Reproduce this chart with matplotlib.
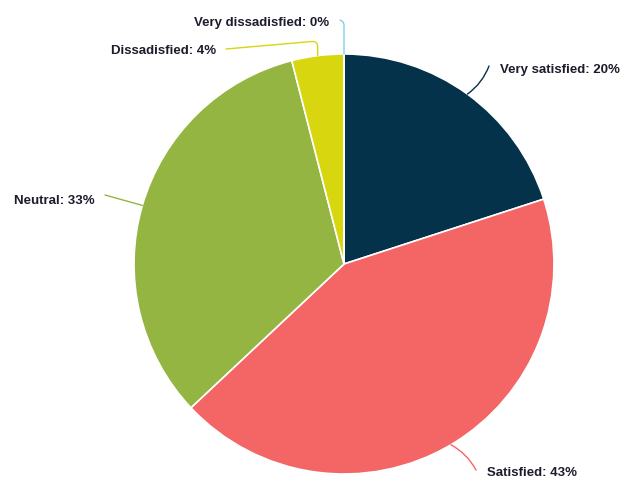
import numpy as np
import matplotlib.pyplot as plt

# Satisfaction survey shares (percent)
categories = ["Very satisfied", "Satisfied", "Neutral", "Dissadisfied", "Very dissadisfied"]
shares = [20, 43, 33, 4, 0]
colors = ["#04324a", "#f46565", "#95b543", "#d7d60f", "#7fd0e8"]

W, H = 626, 482
cx, cy, R = 344, 482 - 264, 210

# label placement in pixels (x, y from top), text alignment, connector end
label_pos = {
    "Very satisfied": ((500, 70), "left", (489, 66)),
    "Satisfied": ((487, 473), "left", (476, 470)),
    "Neutral": ((95, 201), "right", (105, 195)),
    "Dissadisfied": ((216, 51), "right", (226, 49)),
    "Very dissadisfied": ((329, 23), "right", (340, 20)),
}
conn_style = {
    "Very satisfied": "arc3,rad=-0.15",
    "Satisfied": "arc3,rad=0.15",
    "Neutral": "arc3,rad=0.0",
    "Dissadisfied": "angle,angleA=5,angleB=90,rad=6",
    "Very dissadisfied": "angle,angleA=-20,angleB=90,rad=4",
}

fig = plt.figure(figsize=(W / 100, H / 100), dpi=100)
ax = fig.add_axes([0, 0, 1, 1])
ax.set_aspect("equal")
ax.axis("off")

wedges, _ = ax.pie(shares, colors=colors, startangle=90, counterclock=False,
                   center=(cx, cy), radius=R,
                   wedgeprops=dict(edgecolor="white", linewidth=1.2))
ax.set_xlim(0, W)
ax.set_ylim(0, H)

total = sum(shares)
cum = 0
for name, val, col in zip(categories, shares, colors):
    mid = (cum + val / 2) / total * 2 * np.pi
    cum += val
    ex = cx + R * np.sin(mid)
    ey = cy + R * np.cos(mid)
    (tx, ty), ha, (lx, ly) = label_pos[name]
    ax.annotate("", xy=(ex, ey), xytext=(lx, H - ly),
                arrowprops=dict(arrowstyle="-", color=col, lw=1.0,
                                shrinkA=0, shrinkB=0,
                                connectionstyle=conn_style[name]))
    ax.text(tx, H - ty, f"{name}: {round(val / total * 100)}%", ha=ha, va="center",
            fontsize=9.5, fontweight="bold", family="Liberation Sans", color="#1c1c2c")

fig.savefig("out.png", dpi=100)
